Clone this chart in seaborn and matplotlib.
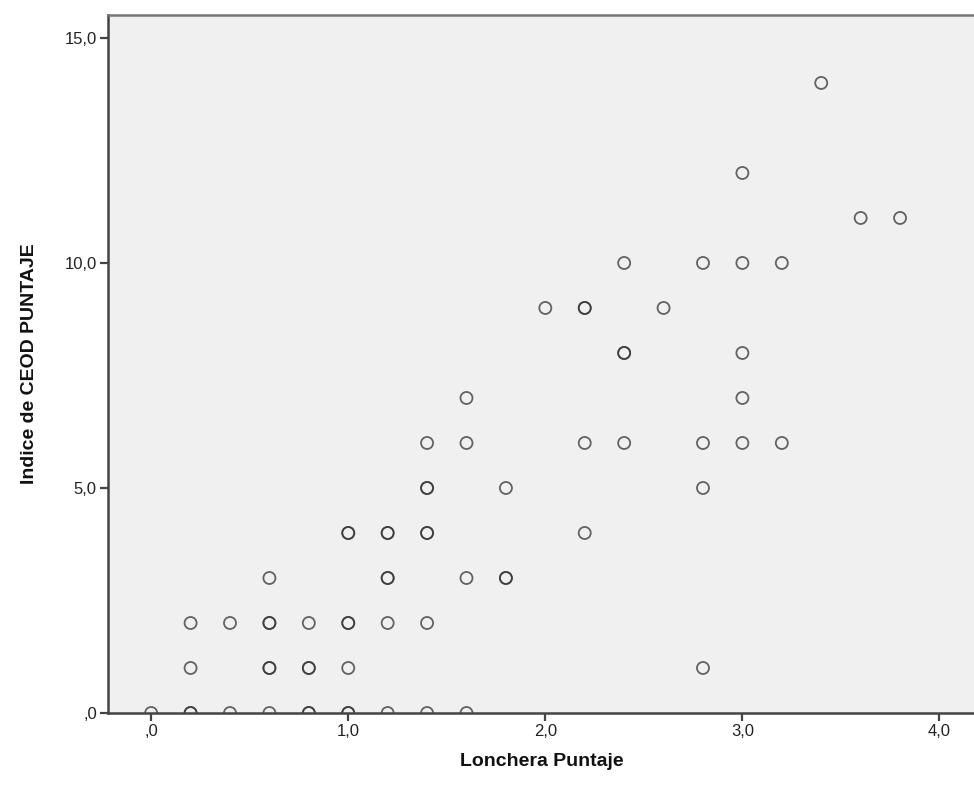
import matplotlib
matplotlib.use("Agg")
import matplotlib.pyplot as plt
import seaborn as sns
import pandas as pd
from matplotlib.ticker import FuncFormatter

# Data (duplicates included where markers look darker)
lonchera = [
    0.0, 0.2, 0.2, 0.4, 0.6, 0.8, 0.8, 1.0, 1.0, 1.2, 1.4, 1.6,      # y=0
    0.2, 0.6, 0.6, 0.8, 0.8, 1.0, 2.8,                               # y=1
    0.2, 0.4, 0.6, 0.6, 0.8, 1.0, 1.0, 1.2, 1.4,                     # y=2
    0.6, 1.2, 1.2, 1.6, 1.8, 1.8,                                    # y=3
    1.0, 1.0, 1.2, 1.2, 1.4, 1.4, 2.2,                               # y=4
    1.4, 1.4, 1.8, 2.8,                                              # y=5
    1.4, 1.6, 2.2, 2.4, 2.8, 3.0, 3.2,                               # y=6
    1.6, 3.0,                                                        # y=7
    2.4, 2.4, 3.0,                                                   # y=8
    2.0, 2.2, 2.2, 2.6,                                              # y=9
    2.4, 2.8, 3.0, 3.2,                                              # y=10
    3.6, 3.8,                                                        # y=11
    3.0,                                                             # y=12
    3.4,                                                             # y=14
]
ceod = (
    [0] * 12 + [1] * 7 + [2] * 9 + [3] * 6 + [4] * 7 + [5] * 4 + [6] * 7
    + [7] * 2 + [8] * 3 + [9] * 4 + [10] * 4 + [11] * 2 + [12] * 1 + [14] * 1
)
x_ticks = [0.0, 1.0, 2.0, 3.0, 4.0]
y_ticks = [0.0, 5.0, 10.0, 15.0]
x_label = "Lonchera Puntaje"
y_label = "Indice de CEOD PUNTAJE"

df = pd.DataFrame({x_label: lonchera, y_label: ceod})

sns.set_style("white")
plt.rcParams["font.family"] = ["Liberation Sans", "DejaVu Sans"]

fig = plt.figure(figsize=(9.74, 7.97), dpi=100)
ax = fig.add_axes([108 / 974, 1 - 713 / 797, 1 - 108 / 974 + 0.002, (713 - 15) / 797])
ax.set_facecolor("#F0F0F0")

sns.scatterplot(data=df, x=x_label, y=y_label, ax=ax, s=75, marker="o",
                facecolors="none", edgecolor=(0.2, 0.2, 0.2, 0.75), linewidth=1.3,
                zorder=1)

ax.set_xlim(-0.219, 4.185)
ax.set_ylim(0, 15.51)
ax.set_xticks(x_ticks)
ax.set_yticks(y_ticks)

def fmt(v, pos):
    s = f"{v:.1f}".replace(".", ",")
    if s.startswith("0,"):
        s = s[1:]
    return s

ax.xaxis.set_major_formatter(FuncFormatter(fmt))
ax.yaxis.set_major_formatter(FuncFormatter(fmt))

for side in ["left", "bottom", "top"]:
    ax.spines[side].set_visible(True)
    ax.spines[side].set_color("#444444")
    ax.spines[side].set_linewidth(1.8)
    ax.spines[side].set_zorder(5)
ax.spines["top"].set_color("#777777")
ax.spines["right"].set_visible(False)

ax.tick_params(axis="both", which="major", direction="out", length=6, width=1.6,
               color="#444444", labelsize=12, labelcolor="#222222", pad=2,
               bottom=True, left=True)

ax.set_xlabel(x_label, fontsize=14, fontweight="bold", labelpad=10, color="#111111")
ax.set_ylabel(y_label, fontsize=14, fontweight="bold", labelpad=19, color="#111111")

fig.savefig("out.png", dpi=100)
